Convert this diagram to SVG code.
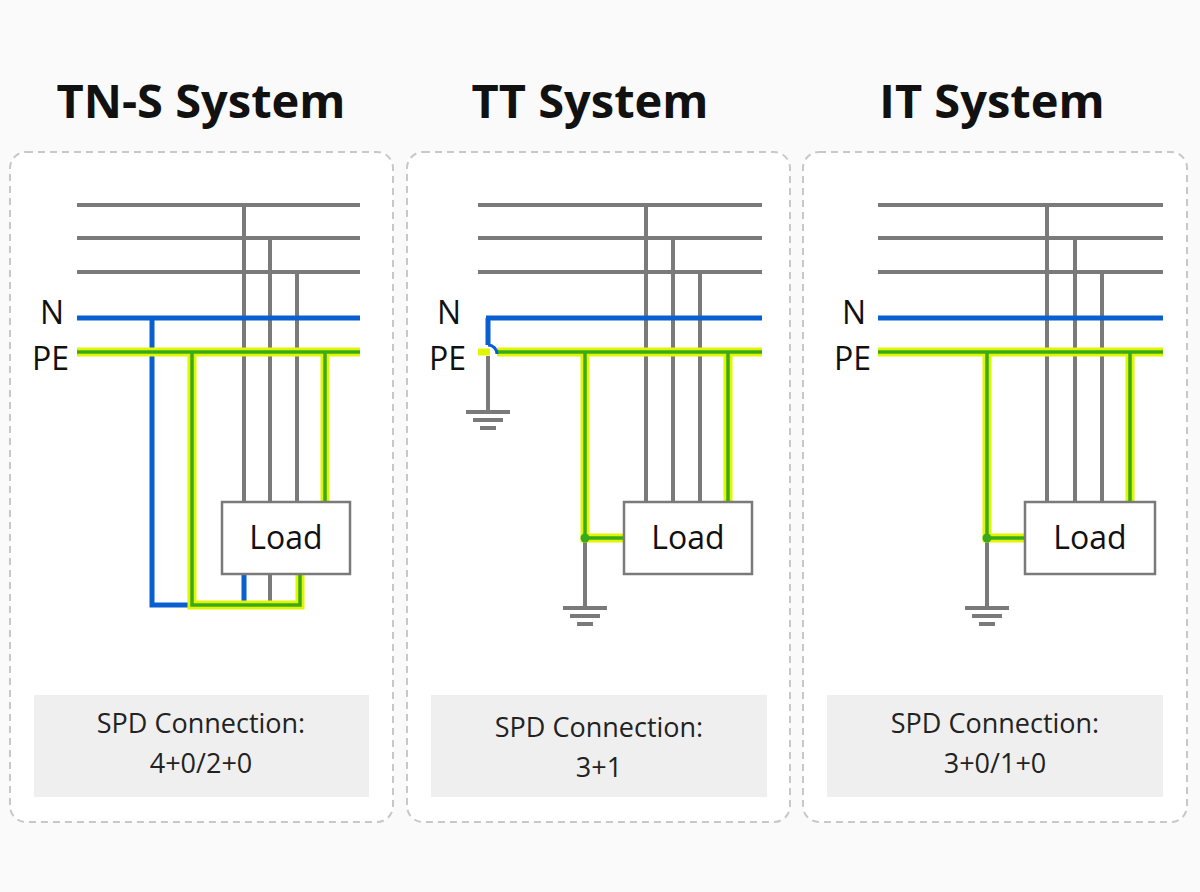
<svg xmlns="http://www.w3.org/2000/svg" width="1200" height="892" viewBox="0 0 1200 892">
<style>
.t{font-family:"Open Sans","Noto Sans","Liberation Sans",sans-serif;font-weight:bold;font-size:47px;fill:#111;text-anchor:middle}
.lb{font-family:"Open Sans","Noto Sans","Liberation Sans",sans-serif;font-size:32px;fill:#111}
.sp{font-family:"Open Sans","Noto Sans","Liberation Sans",sans-serif;font-size:27px;fill:#222;text-anchor:middle}
.panel{fill:#fff;stroke:#c8c8c8;stroke-width:2;stroke-dasharray:7 5}
.spd{fill:#efefef}
.g{stroke:#7a7a7a;stroke-width:4;fill:none}
.n{stroke:#0a5fd0;stroke-width:5;fill:none}
.py{stroke:#e2f500;stroke-width:9;fill:none}
.pg{stroke:#3aaa1c;stroke-width:3.5;fill:none}
.load{fill:#fff;stroke:#7a7a7a;stroke-width:2.5}
</style>
<rect width="1200" height="892" fill="#fafafa"/>
<text class="t" x="201" y="118">TN-S System</text>
<text class="t" x="590" y="118">TT System</text>
<text class="t" x="992" y="118">IT System</text>

<g id="panel-tns">
<rect class="panel" x="10" y="152" width="383" height="670" rx="16"/>
<g class="g"><path d="M77 205H360M77 238H360M77 272H360M244 205V502M270 238V502M297 272V502M270 574V605"/></g>
<path class="n" d="M77 318H360M152 318V605H190M244 574V603"/>
<path class="py" d="M77 352H360M192 352V605H300V574M325 352V502"/>
<path class="pg" d="M77 352H360M192 352V605H300V574M325 352V502"/>
<rect class="load" x="222" y="502" width="128" height="72"/>
<text class="lb" x="286" y="549" text-anchor="middle">Load</text>
<text class="lb" x="40" y="324">N</text>
<text class="lb" x="32" y="370">PE</text>
<rect class="spd" x="34" y="695" width="335" height="102"/>
<text class="sp" x="201" y="733">SPD Connection:</text>
<text class="sp" x="201" y="773">4+0/2+0</text>
</g>

<g id="panel-tt">
<rect class="panel" x="407" y="152" width="383" height="670" rx="16"/>
<g class="g"><path d="M478 205H762M478 238H762M478 272H762M646 205V502M673 238V502M700 272V502M488 356V412M466 412H510M473 420H503M480 428H496M585 538V608M563 608H607M570 616H600M577 624H593"/></g>
<path d="M478 352H490" stroke="#e2f500" stroke-width="7"/>
<path class="py" d="M497 352H762M585 352V538H624M728 352V502"/>
<path class="pg" d="M497 352H762M585 352V538H624M728 352V502"/>
<path class="n" d="M486 318H762M488 318V345"/>
<path d="M488 345A9 9 0 0 1 497 354" stroke="#0a5fd0" stroke-width="3" fill="none"/>
<circle cx="585" cy="538" r="4.5" fill="#3aaa1c"/>
<rect class="load" x="624" y="502" width="128" height="72"/>
<text class="lb" x="688" y="549" text-anchor="middle">Load</text>
<text class="lb" x="437" y="324">N</text>
<text class="lb" x="429" y="370">PE</text>
<rect class="spd" x="431" y="695" width="336" height="102"/>
<text class="sp" x="599" y="737">SPD Connection:</text>
<text class="sp" x="599" y="777">3+1</text>
</g>

<g id="panel-it">
<rect class="panel" x="803" y="152" width="384" height="670" rx="16"/>
<g class="g"><path d="M878 205H1163M878 238H1163M878 272H1163M1047 205V502M1075 238V502M1102 272V502M987 538V608M965 608H1009M972 616H1002M979 624H995"/></g>
<path class="n" d="M878 318H1163"/>
<path class="py" d="M878 352H1163M987 352V538H1025M1130 352V502"/>
<path class="pg" d="M878 352H1163M987 352V538H1025M1130 352V502"/>
<circle cx="987" cy="538" r="4.5" fill="#3aaa1c"/>
<rect class="load" x="1025" y="502" width="130" height="72"/>
<text class="lb" x="1090" y="549" text-anchor="middle">Load</text>
<text class="lb" x="842" y="324">N</text>
<text class="lb" x="834" y="370">PE</text>
<rect class="spd" x="827" y="695" width="336" height="102"/>
<text class="sp" x="995" y="733">SPD Connection:</text>
<text class="sp" x="995" y="773">3+0/1+0</text>
</g>
</svg>
